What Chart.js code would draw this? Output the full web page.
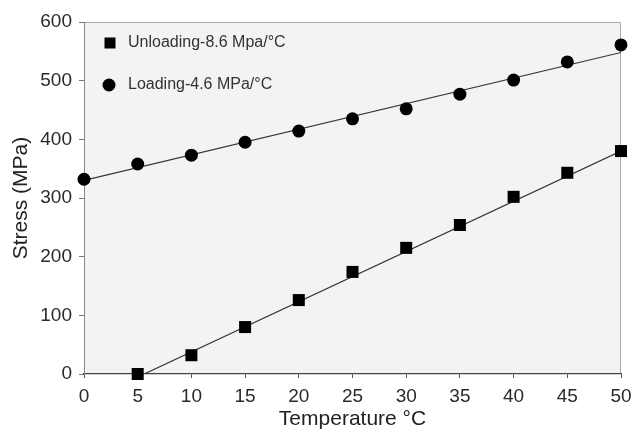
<!DOCTYPE html>
<html>
<head>
<meta charset="utf-8">
<script src="https://cdn.jsdelivr.net/npm/chart.js@4"></script>
<style>
  html, body { margin: 0; padding: 0; background: #fff; }
  #wrap { width: 632px; height: 432px; position: relative; }
</style>
</head>
<body>
<div id="wrap"><canvas id="myChart"></canvas></div>
<script>
  // values
  const loadTemps = [0, 5, 10, 15, 20, 25, 30, 35, 40, 45, 50];
  const loadStress = [332, 358, 373, 395, 414, 435, 452, 477, 501, 532, 561];
  const unloadTemps = [5, 10, 15, 20, 25, 30, 35, 40, 45, 50];
  const unloadStress = [0, 32, 80, 126, 174, 215, 254, 302, 343, 380];

  // fitted lines (end points)
  const loadFitX = [0, 50];
  const loadFitY = [330, 548];
  const unloadFitX = [5.6, 50];
  const unloadFitY = [0, 380];

  const xTicks = [0, 5, 10, 15, 20, 25, 30, 35, 40, 45, 50];
  const yTicks = [0, 100, 200, 300, 400, 500, 600];

  const legendLabels = ['Unloading-8.6 Mpa/°C', 'Loading-4.6 MPa/°C'];

  const FONT = '"Liberation Sans", Arial, sans-serif';

  function pairs(xs, ys) {
    return xs.map((x, i) => ({ x: x, y: ys[i] }));
  }

  // grey plot area + frame
  const plotBg = {
    id: 'plotBg',
    beforeDraw(chart) {
      const { ctx, chartArea: a } = chart;
      ctx.save();
      ctx.fillStyle = '#f3f3f3';
      ctx.fillRect(a.left, a.top, a.right - a.left, a.bottom - a.top);
      ctx.strokeStyle = '#a8a8a8';
      ctx.lineWidth = 1;
      ctx.beginPath();
      ctx.moveTo(a.left, a.top + 0.5);
      ctx.lineTo(a.right - 0.5, a.top + 0.5);
      ctx.lineTo(a.right - 0.5, a.bottom);
      ctx.stroke();
      ctx.restore();
    }
  };

  // legend inside the plot, top left
  const innerLegend = {
    id: 'innerLegend',
    afterDraw(chart) {
      const { ctx, chartArea: a } = chart;
      ctx.save();
      ctx.fillStyle = '#000';
      const x0 = a.left + 26;
      const y1 = a.top + 21;
      const y2 = a.top + 63;
      ctx.fillRect(x0 - 5.5, y1 - 5.5, 11, 11);
      ctx.beginPath();
      ctx.arc(x0 - 1, y2, 6.5, 0, Math.PI * 2);
      ctx.fill();
      ctx.fillStyle = '#333';
      ctx.font = '16px ' + FONT;
      ctx.textBaseline = 'middle';
      ctx.fillText(legendLabels[0], a.left + 44, y1);
      ctx.fillText(legendLabels[1], a.left + 44, y2);
      ctx.restore();
    }
  };

  const ctx = document.getElementById('myChart').getContext('2d');
  new Chart(ctx, {
    type: 'scatter',
    data: {
      datasets: [{
        label: legendLabels[0],
        data: pairs(unloadTemps, unloadStress),
        pointStyle: 'rect',
        pointRadius: 8.5,
        backgroundColor: '#000',
        borderColor: '#000',
        borderWidth: 0,
        clip: false,
        order: 0
      }, {
        label: legendLabels[1],
        data: pairs(loadTemps, loadStress),
        pointStyle: 'circle',
        pointRadius: 6.5,
        backgroundColor: '#000',
        borderColor: '#000',
        borderWidth: 0,
        clip: false,
        order: 0
      }, {
        label: 'unload fit',
        data: pairs(unloadFitX, unloadFitY),
        showLine: true,
        pointRadius: 0,
        borderColor: '#333',
        borderWidth: 1.2,
        order: 1
      }, {
        label: 'load fit',
        data: pairs(loadFitX, loadFitY),
        showLine: true,
        pointRadius: 0,
        borderColor: '#333',
        borderWidth: 1.2,
        order: 1
      }]
    },
    plugins: [plotBg, innerLegend],
    options: {
      responsive: true,
      maintainAspectRatio: false,
      animation: false,
      layout: { padding: { top: 22, right: 11, left: 9, bottom: 0 } },
      plugins: {
        legend: { display: false },
        tooltip: { enabled: false }
      },
      scales: {
        x: {
          type: 'linear',
          min: 0,
          max: 50,
          afterBuildTicks: (scale) => { scale.ticks = xTicks.map(v => ({ value: v })); },
          afterFit: (scale) => { scale.height = 58; scale.paddingRight = 0; scale.paddingLeft = 0; },
          grid: { drawOnChartArea: false, drawTicks: true, tickLength: 4, tickColor: '#555' },
          border: { display: true, color: '#444', width: 1.3 },
          ticks: { color: '#2a2a2a', font: { family: FONT, size: 19 }, padding: 7, maxRotation: 0 },
          title: {
            display: true,
            text: 'Temperature °C',
            color: '#222',
            font: { family: FONT, size: 21 },
            padding: 0
          }
        },
        y: {
          min: 0,
          max: 600,
          afterBuildTicks: (scale) => { scale.ticks = yTicks.map(v => ({ value: v })); },
          afterFit: (scale) => { scale.width = 75; scale.paddingTop = 0; scale.paddingBottom = 0; },
          grid: { drawOnChartArea: false, drawTicks: true, tickLength: 5, tickColor: '#777' },
          border: { display: true, color: '#888', width: 1 },
          ticks: { color: '#2a2a2a', font: { family: FONT, size: 19 }, padding: 7 },
          title: {
            display: true,
            text: 'Stress (MPa)',
            color: '#222',
            font: { family: FONT, size: 21 },
            padding: 0
          }
        }
      }
    }
  });
</script>
</body>
</html>
